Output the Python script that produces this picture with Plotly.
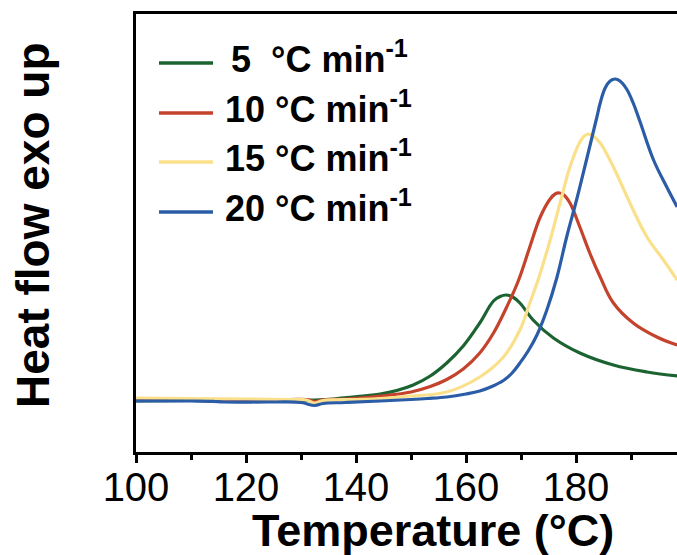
import plotly.graph_objects as go

# ---- data ----
T_5 = [100, 110, 120, 128, 132.5, 136, 138.3, 141.3, 144.4, 147.4, 150.4, 153.5, 156.5, 159.5,
       162.5, 165, 166.2, 167.3, 168.5, 169.8, 172.2, 175.9, 180.7, 186.8, 192.9, 198.4]
HF_5 = [0.51, 0.515, 0.515, 0.52, 0.52, 0.53, 0.545, 0.56, 0.58, 0.615, 0.67, 0.76, 0.89, 1.06,
        1.29, 1.51, 1.555, 1.57, 1.55, 1.49, 1.32, 1.14, 0.99, 0.87, 0.80, 0.76]

T_10 = [100, 110, 120, 128, 131, 132.5, 134, 138, 144.4, 150, 153.5, 156.5, 159.5, 162.5, 165,
        167.4, 169.5, 171.6, 173.5, 175.3, 176.2, 177.0, 177.8, 178.9, 180.7, 182.5, 184.4, 186.8,
        190.4, 194.7, 198.4]
HF_10 = [0.525, 0.525, 0.525, 0.525, 0.525, 0.505, 0.52, 0.53, 0.56, 0.60, 0.655, 0.725, 0.83, 0.99, 1.19,
         1.45, 1.71, 2.05, 2.35, 2.53, 2.58, 2.59, 2.57, 2.49, 2.25, 1.99, 1.75, 1.49,
         1.29, 1.15, 1.07]

T_15 = [100, 110, 120, 128, 131, 132.5, 134, 140, 144.4, 150, 156.5, 162.5, 166.8, 169.8, 171.6,
        173.1, 175.3, 177.1, 178.9, 180.7, 181.5, 182.2, 183.1, 184.4, 186.8, 189.8, 192.9, 195.9, 198.4]
HF_15 = [0.54, 0.535, 0.53, 0.525, 0.52, 0.49, 0.515, 0.525, 0.535, 0.56, 0.60, 0.75, 0.95, 1.22, 1.49,
         1.72, 2.12, 2.49, 2.85, 3.10, 3.16, 3.18, 3.16, 3.09, 2.85, 2.49, 2.15, 1.92, 1.72]

T_20 = [100, 110, 114, 116, 125, 130, 132.5, 134, 138, 144.4, 150, 153, 156.5, 160, 162.5, 164.7,
        166.8, 168.3, 169.8, 171.3, 172.9, 174.7, 176.5, 178.3, 180.1, 181.9, 183.8, 184.4, 185.3,
        186.2, 187.1, 188.0, 189.2, 190.4, 191.6, 194.1, 196.5, 198.4]
HF_20 = [0.51, 0.51, 0.507, 0.50, 0.50, 0.495, 0.465, 0.485, 0.495, 0.51, 0.525, 0.535, 0.55, 0.58,
         0.61, 0.655, 0.715, 0.785, 0.89, 1.01, 1.17, 1.42, 1.74, 2.15, 2.52, 2.92, 3.35, 3.49, 3.64,
         3.71, 3.73, 3.71, 3.63, 3.49, 3.31, 2.92, 2.65, 2.45]

series_names = ["5&nbsp; °C min<sup>-1</sup>", "10 °C min<sup>-1</sup>",
                "15 °C min<sup>-1</sup>", "20 °C min<sup>-1</sup>"]
colors = ["#1c6332", "#c4432c", "#fbe08c", "#2b5ca6"]
xticks = [100, 120, 140, 160, 180]

fig = go.Figure()
for (T, HF), c, name in zip([(T_5, HF_5), (T_10, HF_10), (T_15, HF_15), (T_20, HF_20)], colors, series_names):
    fig.add_trace(go.Scatter(x=T, y=HF, mode="lines", name=name,
                             line=dict(color=c, width=3.2, shape="spline", smoothing=1.1),
                             showlegend=False))

W, H = 677, 555
L, R, TOP, B = 136, 0, 14, 103
pw, ph = W - L - R, H - TOP - B

def px(xp):
    return (xp - L) / pw

def py(yp):
    return (H - B - yp) / ph

FONT = "Liberation Sans, Arial"

# manual legend
leg_y = [63, 113, 162, 212]
leg_tx = [229, 223, 223, 223]
for yy, tx, c, name in zip(leg_y, leg_tx, colors, series_names):
    fig.add_shape(type="line", xref="paper", yref="paper", x0=px(159), x1=px(213), y0=py(yy), y1=py(yy),
                  line=dict(color=c, width=3.5))
    fig.add_annotation(xref="paper", yref="paper", x=px(tx), y=py(yy - 6), xanchor="left", yanchor="middle",
                       text="<b>" + name + "</b>", showarrow=False,
                       font=dict(family=FONT, size=36, color="black"))

# axis titles
fig.add_annotation(xref="paper", yref="paper", x=px(433), y=py(530), xanchor="center", yanchor="middle",
                   text="<b>Temperature (°C)</b>", showarrow=False,
                   font=dict(family=FONT, size=45, color="black"))
fig.add_annotation(xref="paper", yref="paper", x=px(33), y=py(226), xanchor="center", yanchor="middle",
                   text="<b>Heat flow exo up</b>", showarrow=False, textangle=-90,
                   font=dict(family=FONT, size=46, color="black"))

fig.update_layout(
    width=W, height=H,
    margin=dict(l=L, r=R, t=TOP, b=B),
    paper_bgcolor="white", plot_bgcolor="white",
    xaxis=dict(range=[100, 100 + pw / 5.5], tickvals=xticks, ticktext=[str(v) for v in xticks],
               ticks="outside", ticklen=8, tickwidth=3, tickcolor="black",
               showline=True, linewidth=3, linecolor="black", mirror=True,
               showgrid=False, zeroline=False, ticklabelstandoff=-10,
               tickfont=dict(family=FONT, size=40, color="black"),
               minor=dict(tickvals=[110, 130, 150, 170, 190], ticks="outside", ticklen=5, tickwidth=3,
                          tickcolor="black", showgrid=False)),
    yaxis=dict(range=[0, 4.38], showline=True, linewidth=3, linecolor="black",
               showticklabels=False, ticks="", showgrid=False, zeroline=False),
)

fig.write_html("out.html", config={"displayModeBar": False},
               post_script="document.body.style.margin='0';document.body.style.overflow='hidden';")
